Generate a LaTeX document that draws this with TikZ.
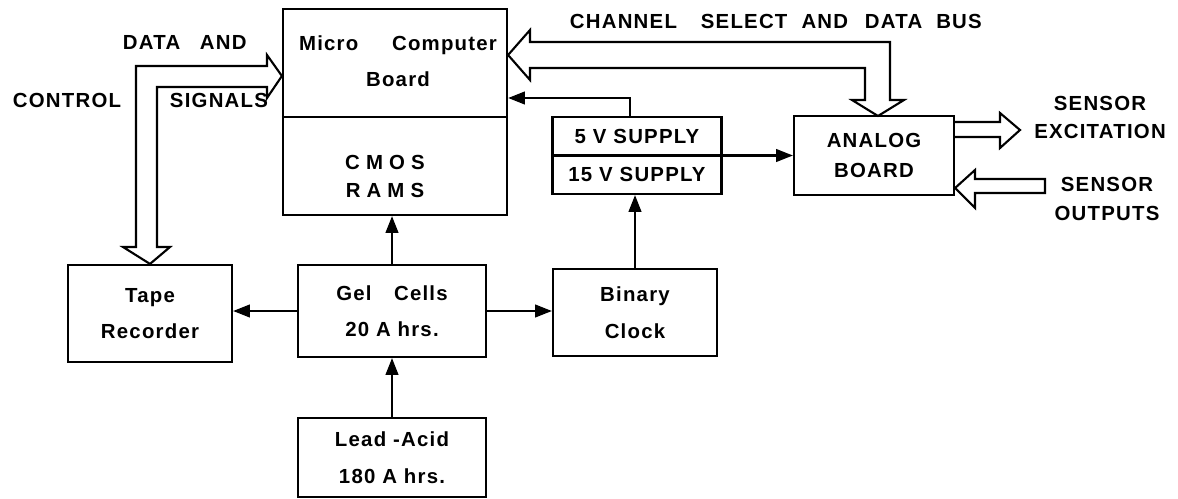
\documentclass[tikz,border=0pt]{standalone}
\usepackage{fontspec}
\setmainfont{Liberation Sans}[LetterSpace=6]
\usetikzlibrary{arrows.meta,calc}

\newcommand\diagfont{\bfseries\fontsize{14.5}{20}\selectfont}

\begin{document}
\begin{tikzpicture}[x=0.025cm,y=-0.025cm,>={Triangle[length=12pt,width=9pt]},
  box/.style={draw,line width=1.5pt,align=center,font=\diagfont},
  lbl/.style={align=center,font=\diagfont},
  wire/.style={->,line width=1.6pt},
  bus/.style={draw,line width=1.5pt,line join=miter}]
  \useasboundingbox (0,0) rectangle (1178,499);

  % blocks
  \node[box,minimum width=5.6cm,minimum height=5.15cm] (micro) at (395,112) {};
  \node[box,minimum width=4.225cm,minimum height=1.925cm] (supply) at (637,155.5) {};
  \node[box,minimum width=4cm,minimum height=1.975cm] (analog) at (874,155.5) {ANALOG\\[2pt]BOARD};
  \node[box,minimum width=4.1cm,minimum height=2.425cm] (tape) at (150,313.5) {Tape\\[6pt]Recorder};
  \node[box,minimum width=4.7cm,minimum height=2.3cm] (gel) at (392,311) {Gel\hspace{16pt}Cells\\[6pt]20 A hrs.};
  \node[box,minimum width=4.1cm,minimum height=2.175cm] (binary) at (635,312.5) {Binary\\[6pt]Clock};
  \node[box,minimum width=4.7cm,minimum height=1.975cm] (lead) at (392,457.5) {Lead -Acid\\[6pt]180 A hrs.};

  % dividers
  \draw[line width=1.5pt] (micro.west |- 0,117) -- (micro.east |- 0,117);
  \draw[line width=1.5pt] (supply.west) -- (supply.east);

  % texts in the split boxes
  \node[lbl] (mctxt) at (398,61) {Micro\hspace{24pt}Computer\\[6pt]Board};
  \node[lbl,font=\diagfont\addfontfeature{LetterSpace=30}] (ramtxt) at (385,176.5) {CMOS\\RAMS};
  \node[lbl] (s5) at (637,136) {5 V SUPPLY};
  \node[lbl] (s15) at (637,174) {15 V SUPPLY};

  % outside labels
  \node[lbl,anchor=west] (chsel) at (565,21)
    {CHANNEL\hspace{17pt}SELECT\hspace{10pt}AND\hspace{12pt}DATA\hspace{10pt}BUS};
  \node[lbl,anchor=west] (dataand) at (118,42) {DATA\hspace{14pt}AND};
  \node[lbl,anchor=west] (ctrl) at (8,100) {CONTROL};
  \node[lbl,anchor=west] (sig) at (165,100) {SIGNALS};
  \node[lbl] (sexc) at (1100,117.5) {SENSOR\\EXCITATION};
  \node[lbl] (sout) at (1107,199) {SENSOR\\OUTPUTS};

  % thin arrows
  \draw[wire] (gel.north) -- (gel.north |- micro.south);
  \draw[wire] (lead.north) -- (gel.south);
  \draw[wire] (gel.west) -- (gel.west -| tape.east);
  \draw[wire] (gel.east) -- (gel.east -| binary.west);
  \draw[wire] (binary.north) -- (binary.north |- supply.south);
  \draw[wire] ([xshift=-0.175cm]supply.north) |- ([yshift=0.35cm]micro.east);
  \draw[wire] (supply.east) -- (analog.west);

  % wide buses
  \draw[bus] (267,66) -- (136,66) -- (136,247) -- (123,247) -- (tape.north)
    -- (170,247) -- (157,247) -- (157,87) -- (267,87) -- (267,98)
    -- (micro.west |- 0,76) -- (267,55) -- cycle;
  \draw[bus] (530,42) -- (890,42) -- (890,100) -- (904,100) -- (878,116)
    -- (852,100) -- (865,100) -- (865,68) -- (530,68) -- (530,80)
    -- (micro.east |- 0,55) -- (530,30) -- cycle;
  \draw[bus] (analog.east |- 0,122) -- (1000,122) -- (1000,113) -- (1020,130)
    -- (1000,148) -- (1000,137) -- (analog.east |- 0,137);
  \draw[bus] (1045,179) -- (975,179) -- (975,170) -- (analog.east |- 0,188)
    -- (975,208) -- (975,193) -- (1045,193) -- cycle;
\end{tikzpicture}
\end{document}
